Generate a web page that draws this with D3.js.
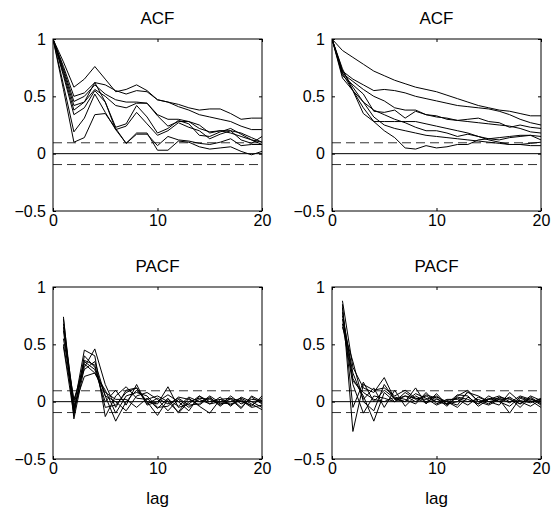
<!DOCTYPE html>
<html>
<head>
<meta charset="utf-8">
<script src="https://cdn.jsdelivr.net/npm/d3@7/dist/d3.min.js"></script>
<style>
  html, body { margin: 0; padding: 0; background: #fff; }
  svg text { font-family: "Liberation Sans", Arial, Helvetica, sans-serif; fill: #000; }
</style>
</head>
<body>
<script>
// ---------- data ----------
const panelTitles = ["ACF", "ACF", "PACF", "PACF"];
const xTicks = [0, 10, 20];
const yTicks = [-0.5, 0, 0.5, 1];
const yTickLabels = ["\u22120.5", "0", "0.5", "1"];
const confBand = 0.095;
const xLabel = "lag";

// ACF series, lags 0..20 (left panel)
const acfLeft = [
  [1, 0.80, 0.58, 0.65, 0.76, 0.65, 0.54, 0.56, 0.60, 0.55, 0.47, 0.45, 0.43, 0.40, 0.38, 0.39, 0.39, 0.35, 0.30, 0.31, 0.31],
  [1, 0.76, 0.50, 0.53, 0.62, 0.60, 0.55, 0.52, 0.55, 0.54, 0.47, 0.45, 0.41, 0.38, 0.34, 0.32, 0.30, 0.28, 0.24, 0.21, 0.21],
  [1, 0.74, 0.455, 0.50, 0.60, 0.52, 0.47, 0.45, 0.45, 0.44, 0.34, 0.30, 0.30, 0.28, 0.22, 0.19, 0.20, 0.20, 0.18, 0.14, 0.10],
  [1, 0.72, 0.42, 0.45, 0.56, 0.50, 0.42, 0.40, 0.44, 0.44, 0.33, 0.24, 0.28, 0.28, 0.25, 0.18, 0.20, 0.18, 0.15, 0.12, 0.08],
  [1, 0.70, 0.38, 0.45, 0.62, 0.45, 0.23, 0.26, 0.42, 0.32, 0.18, 0.22, 0.29, 0.26, 0.16, 0.15, 0.19, 0.22, 0.17, 0.12, 0.10],
  [1, 0.68, 0.34, 0.40, 0.55, 0.45, 0.21, 0.24, 0.36, 0.26, 0.16, 0.20, 0.27, 0.23, 0.20, 0.13, 0.17, 0.20, 0.12, 0.09, 0.15],
  [1, 0.60, 0.19, 0.31, 0.52, 0.36, 0.21, 0.09, 0.17, 0.17, 0.07, 0.15, 0.12, 0.11, 0.09, 0.08, 0.10, 0.13, 0.07, 0.08, 0.08],
  [1, 0.56, 0.10, 0.14, 0.34, 0.35, 0.22, 0.09, 0.18, 0.18, 0.03, 0.03, 0.11, 0.10, 0.06, 0.04, 0.05, 0.06, 0.02, -0.01, 0.02]
];

// ACF series, lags 0..20 (right panel)
const acfRight = [
  [1, 0.90, 0.84, 0.78, 0.72, 0.68, 0.64, 0.61, 0.58, 0.56, 0.54, 0.51, 0.48, 0.45, 0.42, 0.40, 0.38, 0.37, 0.35, 0.33, 0.33],
  [1, 0.72, 0.65, 0.60, 0.55, 0.56, 0.55, 0.53, 0.50, 0.48, 0.46, 0.44, 0.42, 0.41, 0.40, 0.39, 0.37, 0.34, 0.30, 0.27, 0.25],
  [1, 0.70, 0.63, 0.56, 0.50, 0.46, 0.40, 0.38, 0.38, 0.34, 0.33, 0.30, 0.29, 0.30, 0.31, 0.28, 0.27, 0.23, 0.25, 0.23, 0.22],
  [1, 0.68, 0.60, 0.52, 0.37, 0.36, 0.38, 0.31, 0.37, 0.34, 0.32, 0.31, 0.29, 0.28, 0.27, 0.26, 0.25, 0.24, 0.22, 0.19, 0.18],
  [1, 0.66, 0.55, 0.45, 0.38, 0.34, 0.30, 0.27, 0.23, 0.20, 0.20, 0.18, 0.15, 0.17, 0.15, 0.13, 0.12, 0.14, 0.15, 0.16, 0.15],
  [1, 0.74, 0.55, 0.35, 0.28, 0.28, 0.28, 0.28, 0.28, 0.26, 0.24, 0.22, 0.20, 0.18, 0.15, 0.12, 0.10, 0.08, 0.08, 0.09, 0.10],
  [1, 0.72, 0.58, 0.45, 0.32, 0.25, 0.22, 0.20, 0.18, 0.16, 0.15, 0.14, 0.13, 0.12, 0.11, 0.10, 0.09, 0.08, 0.08, 0.07, 0.07],
  [1, 0.70, 0.55, 0.40, 0.28, 0.20, 0.14, 0.05, 0.04, 0.07, 0.05, 0.06, 0.08, 0.08, 0.12, 0.13, 0.14, 0.15, 0.16, 0.16, 0.12]
];

// PACF series, lags 1..20 (left panel)
const pacfLeft = [
  [0.74, -0.15, 0.30, 0.46, 0.15, -0.05, 0.10, 0.12, 0.00, -0.02, 0.13, -0.05, -0.02, 0.05, 0.00, 0.02, -0.03, 0.02, -0.04, 0.05],
  [0.72, -0.05, 0.45, 0.40, -0.13, 0.05, 0.13, 0.03, 0.02, 0.05, 0.00, -0.09, 0.03, -0.04, -0.10, 0.02, 0.03, -0.05, 0.04, -0.02],
  [0.68, -0.10, 0.40, 0.30, 0.05, -0.17, 0.00, 0.10, 0.00, -0.12, 0.02, -0.04, 0.04, 0.00, 0.03, -0.02, 0.00, 0.03, -0.02, -0.07],
  [0.65, 0.00, 0.35, 0.28, 0.00, 0.10, -0.03, 0.15, -0.03, 0.00, 0.06, 0.00, -0.08, 0.05, -0.02, 0.00, 0.02, -0.06, 0.05, 0.00],
  [0.62, -0.08, 0.33, 0.25, 0.10, -0.10, 0.05, 0.08, 0.05, -0.05, -0.04, 0.04, 0.02, -0.03, 0.04, -0.04, 0.03, 0.00, -0.03, 0.03],
  [0.55, 0.02, 0.28, 0.35, 0.05, 0.00, -0.08, 0.05, 0.08, 0.02, -0.08, 0.02, -0.05, 0.02, -0.02, 0.04, -0.04, 0.04, 0.00, -0.05],
  [0.50, -0.05, 0.22, 0.25, 0.08, 0.02, 0.02, -0.05, 0.03, -0.06, 0.03, -0.10, 0.00, 0.03, 0.02, -0.03, 0.05, -0.02, 0.02, 0.01],
  [0.48, -0.12, 0.36, 0.32, -0.05, -0.03, 0.08, 0.12, -0.02, 0.03, -0.02, 0.03, -0.03, -0.02, 0.05, -0.01, -0.02, 0.01, -0.05, -0.03]
];

// PACF series, lags 1..20 (right panel)
const pacfRight = [
  [0.88, 0.30, 0.12, 0.08, 0.21, 0.02, 0.05, 0.00, 0.06, 0.03, -0.04, 0.05, 0.10, 0.00, 0.02, 0.03, -0.01, 0.05, 0.02, 0.00],
  [0.85, -0.26, 0.15, 0.10, 0.12, 0.05, 0.10, 0.03, 0.02, 0.05, -0.02, 0.00, 0.08, 0.05, 0.00, 0.02, -0.10, 0.03, 0.00, 0.02],
  [0.82, -0.05, 0.17, 0.00, 0.10, 0.03, 0.00, 0.12, -0.02, 0.07, -0.03, 0.04, 0.02, -0.02, 0.05, 0.00, 0.04, -0.02, 0.03, -0.03],
  [0.78, 0.20, 0.05, -0.17, 0.08, 0.00, 0.08, 0.02, 0.05, 0.00, -0.02, 0.06, 0.05, -0.04, 0.02, 0.05, 0.00, 0.01, -0.01, 0.03],
  [0.75, 0.25, 0.02, 0.12, -0.05, 0.10, -0.04, 0.05, 0.00, 0.04, 0.00, -0.03, 0.09, 0.00, -0.03, 0.02, 0.03, -0.05, 0.04, -0.02],
  [0.72, 0.18, 0.08, 0.02, 0.00, 0.04, 0.02, -0.02, 0.08, -0.02, 0.02, 0.02, -0.03, 0.04, 0.00, -0.03, 0.08, 0.00, -0.04, 0.02],
  [0.68, 0.15, -0.10, 0.05, 0.03, 0.00, 0.05, 0.03, -0.01, 0.02, 0.00, -0.05, 0.04, -0.02, 0.03, 0.00, -0.04, 0.04, 0.01, -0.05],
  [0.65, 0.35, 0.00, -0.08, 0.15, 0.02, 0.00, 0.07, 0.03, -0.03, 0.01, 0.03, 0.00, 0.02, -0.02, 0.04, 0.02, -0.02, 0.05, 0.01]
];

// ---------- drawing ----------
const W = 552, H = 508;
const svg = d3.select("body").append("svg").attr("width", W).attr("height", H);

const panels = [
  { series: acfLeft,  lag0: 0, left: 53,  top: 39,  title: panelTitles[0], xlab: false },
  { series: acfRight, lag0: 0, left: 332, top: 39,  title: panelTitles[1], xlab: false },
  { series: pacfLeft, lag0: 1, left: 53,  top: 287, title: panelTitles[2], xlab: true },
  { series: pacfRight,lag0: 1, left: 332, top: 287, title: panelTitles[3], xlab: true }
];
const pw = 209, ph = 172;

panels.forEach(p => {
  const g = svg.append("g").attr("transform", `translate(${p.left},${p.top})`);
  const x = d3.scaleLinear().domain([0, 20]).range([0, pw]);
  const y = d3.scaleLinear().domain([-0.5, 1]).range([ph, 0]);

  const cid = "clip" + p.left + "_" + p.top;
  g.append("clipPath").attr("id", cid).append("rect").attr("width", pw).attr("height", ph);
  const inner = g.append("g").attr("clip-path", `url(#${cid})`);

  inner.append("line").attr("x1", 0).attr("x2", pw).attr("y1", y(0)).attr("y2", y(0))
    .attr("stroke", "#000").attr("stroke-width", 1);
  [confBand, -confBand].forEach(v => {
    inner.append("line").attr("x1", 0).attr("x2", pw).attr("y1", y(v)).attr("y2", y(v))
      .attr("stroke", "#333").attr("stroke-width", 1).attr("stroke-dasharray", "9,5");
  });

  const line = d3.line().x((d, i) => x(i + p.lag0)).y(d => y(d));
  inner.selectAll("path.s").data(p.series).enter().append("path")
    .attr("class", "s").attr("d", line).attr("fill", "none")
    .attr("stroke", "#000").attr("stroke-width", 1).attr("stroke-linejoin", "miter");

  const tl = 3;
  g.append("g").attr("transform", `translate(0,${ph})`)
    .call(d3.axisBottom(x).tickValues(xTicks).tickSize(-tl).tickPadding(4).tickFormat(d3.format("d")))
    .call(a => a.select(".domain").remove());
  g.append("g")
    .call(d3.axisTop(x).tickValues(xTicks).tickSize(-tl).tickFormat(""))
    .call(a => a.select(".domain").remove());
  g.append("g")
    .call(d3.axisLeft(y).tickValues(yTicks).tickSize(-tl).tickPadding(7).tickFormat((d, i) => yTickLabels[i]))
    .call(a => a.select(".domain").remove());
  g.append("g").attr("transform", `translate(${pw},0)`)
    .call(d3.axisRight(y).tickValues(yTicks).tickSize(-tl).tickFormat(""))
    .call(a => a.select(".domain").remove());
  g.selectAll(".tick text").attr("font-size", 16).attr("font-family", "Liberation Sans, Arial, sans-serif").attr("fill", "#000");
  g.selectAll(".tick line").attr("stroke", "#000");

  g.append("rect").attr("width", pw).attr("height", ph).attr("fill", "none")
    .attr("stroke", "#000").attr("stroke-width", 1);

  g.append("text").attr("x", pw / 2).attr("y", -15).attr("text-anchor", "middle")
    .attr("font-size", 17).text(p.title);
  if (p.xlab) {
    g.append("text").attr("x", pw / 2).attr("y", ph + 45).attr("text-anchor", "middle")
      .attr("font-size", 17).text(xLabel);
  }
});
</script>
</body>
</html>
